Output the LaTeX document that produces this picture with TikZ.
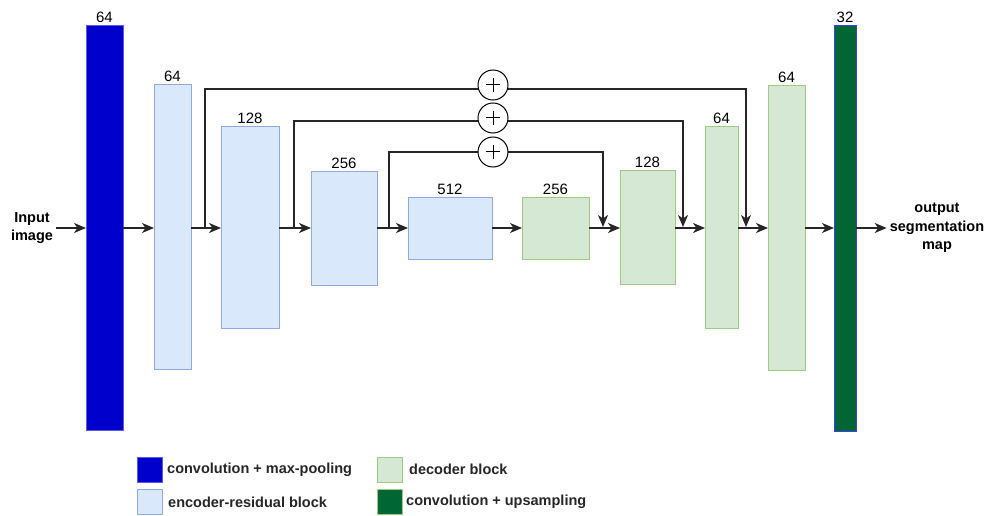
\documentclass[tikz,border=0pt]{standalone}
\usepackage{fontspec}
\setmainfont{Liberation Sans}
\usetikzlibrary{arrows.meta,calc}
\definecolor{convfill}{HTML}{0000CC}
\definecolor{convline}{HTML}{5A5AE6}
\definecolor{encfill}{HTML}{DAE8FC}
\definecolor{encline}{HTML}{8FAADC}
\definecolor{decfill}{HTML}{D5E8D4}
\definecolor{decline}{HTML}{9CCB86}
\definecolor{upfill}{HTML}{006633}
\definecolor{upline}{HTML}{3D3DFF}
\begin{document}
\begin{tikzpicture}[x=1pt,y=-1pt,
  blk/.style={draw, line width=1pt, inner sep=0pt, outer sep=0pt, rectangle},
  convblk/.style={blk, fill=convfill, draw=convline},
  encblk/.style={blk, fill=encfill, draw=encline},
  decblk/.style={blk, fill=decfill, draw=decline},
  upblk/.style={blk, fill=upfill, draw=upline},
  num/.style={font=\fontsize{15}{17}\selectfont, inner sep=0pt, above=3pt},
  bold/.style={font=\fontsize{14.5}{18.5}\selectfont\bfseries, align=center, inner sep=3pt},
  arr/.style={-{Stealth[length=12pt,width=10pt,inset=3.5pt]}, line width=1.1pt, draw=black!85},
  skip/.style={-{Stealth[length=12pt,width=10pt,inset=3.5pt]}, line width=1.1pt, draw=black!85},
  plus/.style={circle, draw, line width=1pt, fill=white, minimum size=30pt, inner sep=0pt,
    path picture={\draw[line width=1pt] (path picture bounding box.center) +(-7,0) -- +(7,0)
      (path picture bounding box.center) +(0,-7) -- +(0,7);}},
  legbox/.style={blk, minimum width=25pt, minimum height=25pt},
  legtxt/.style={font=\fontsize{14.5}{16}\selectfont\bfseries, text=black!85, anchor=west, inner sep=0pt}
]
\useasboundingbox (0,0) rectangle (989,516);

% blocks
\node[convblk, minimum width=37pt, minimum height=405pt] (cmp) at (104.5,228) {};
\node[encblk, minimum width=37pt, minimum height=284pt] (e1) at (172.5,227) {};
\node[encblk, minimum width=58pt, minimum height=201pt] (e2) at (250,227.5) {};
\node[encblk, minimum width=66pt, minimum height=113pt] (e3) at (344,228.5) {};
\node[encblk, minimum width=84pt, minimum height=61pt] (e4) at (450,228.5) {};
\node[decblk, minimum width=67pt, minimum height=61pt] (d1) at (555.5,228.5) {};
\node[decblk, minimum width=55pt, minimum height=113pt] (d2) at (647.5,227.5) {};
\node[decblk, minimum width=33pt, minimum height=201pt] (d3) at (721.5,227.5) {};
\node[decblk, minimum width=37pt, minimum height=284pt] (d4) at (786.5,228) {};
\node[upblk, minimum width=22pt, minimum height=405pt] (cu) at (845,228.5) {};

% numbers
\node[num] (ncmp) at (cmp.north) {64};
\node[num] (ne1) at (e1.north) {64};
\node[num] (ne2) at (e2.north) {128};
\node[num] (ne3) at (e3.north) {256};
\node[num] (ne4) at (e4.north) {512};
\node[num] (nd1) at (d1.north) {256};
\node[num] (nd2) at (d2.north) {128};
\node[num] (nd3) at (d3.north) {64};
\node[num] (nd4) at (d4.north) {64};
\node[num] (ncu) at (cu.north) {32};

% input / output
\node[bold] (in) at (32,228) {Input\\image};
\node[bold] (out) at (937,228) {output\\segmentation\\map};

% main flow line level
\coordinate (m) at (0,228);
\draw[arr] (in.east |- m) -- (cmp.west |- m);
\draw[arr] (cmp.east |- m) -- (e1.west |- m);
\draw[arr] (e1.east |- m) -- (e2.west |- m);
\draw[arr] (e2.east |- m) -- (e3.west |- m);
\draw[arr] (e3.east |- m) -- (e4.west |- m);
\draw[arr] (e4.east |- m) -- (d1.west |- m);
\draw[arr] (d1.east |- m) -- (d2.west |- m);
\draw[arr] (d2.east |- m) -- (d3.west |- m);
\draw[arr] (d3.east |- m) -- (d4.west |- m);
\draw[arr] (d4.east |- m) -- (cu.west |- m);
\draw[arr] (cu.east |- m) -- (out.west |- m);

% skip connections
\coordinate (s1) at (205,228);
\coordinate (t1) at (746,227);
\coordinate (s2) at (294,228);
\coordinate (t2) at (683,227);
\coordinate (s3) at (389,228);
\coordinate (t3) at (603,227);
\coordinate (h1) at (493,89);
\coordinate (h2) at (493,121);
\coordinate (h3) at (493,152);
\draw[skip] (s1) |- (h1) -| (t1);
\draw[skip] (s2) |- (h2) -| (t2);
\draw[skip] (s3) |- (h3) -| (t3);
\node[plus] (p1) at (493,85) {};
\node[plus] (p2) at (493,118) {};
\node[plus] (p3) at (493,152) {};

% legend
\node[legbox, fill=convfill, draw=convline] (l1) at (149.5,469.5) {};
\node[legtxt] (lt1) at (167,469.5) {convolution + max-pooling};
\node[legbox, fill=encfill, draw=encline] (l2) at (149.5,502) {};
\node[legtxt] (lt2) at (168,502) {encoder-residual block};
\node[legbox, fill=decfill, draw=decline] (l3) at (389.5,469.5) {};
\node[legtxt] (lt3) at (409,469.5) {decoder block};
\node[legbox, fill=upfill, draw=decline] (l4) at (389.5,502) {};
\node[legtxt] (lt4) at (406,502) {convolution + upsampling};
\end{tikzpicture}
\end{document}
